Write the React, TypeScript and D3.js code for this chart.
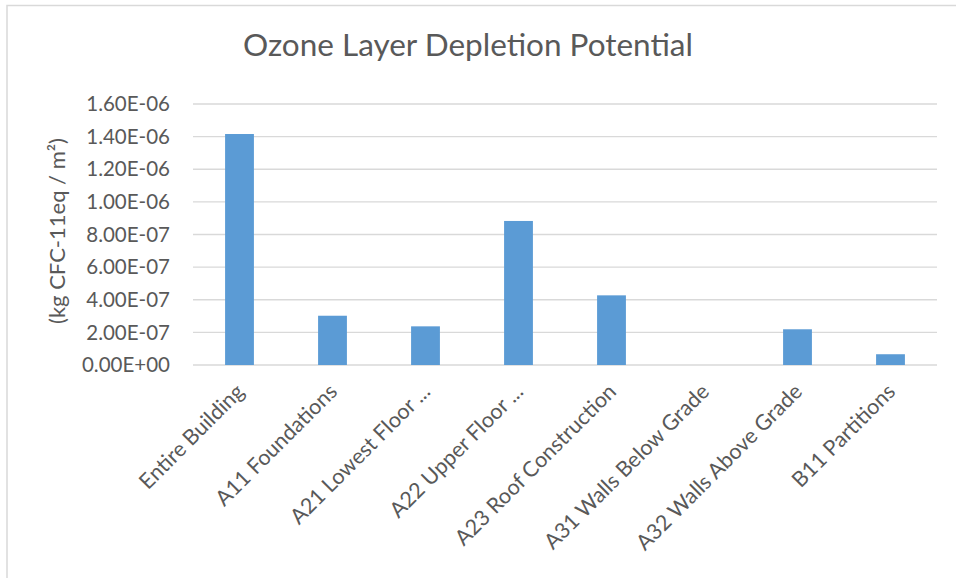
import React from "react";
import * as d3 from "d3";

/* chart data */
const categories = [
  "Entire Building",
  "A11 Foundations",
  "A21 Lowest Floor ...",
  "A22 Upper Floor ...",
  "A23 Roof Construction",
  "A31 Walls Below Grade",
  "A32 Walls Above Grade",
  "B11 Partitions",
];
const values = [1.416e-6, 3.02e-7, 2.37e-7, 8.83e-7, 4.27e-7, 0, 2.19e-7, 6.6e-8];
const yTicks = [0, 2e-7, 4e-7, 6e-7, 8e-7, 1e-6, 1.2e-6, 1.4e-6, 1.6e-6];

const title = "Ozone Layer Depletion Potential";
const yLabel = "(kg CFC-11eq / m²)";

const W = 956;
const H = 578;
const margin = { top: 104, right: 19, bottom: 213, left: 193 };
const font = "Lato, 'Open Sans', sans-serif";
const textColor = "#595959";

const fmt = (v: number) => {
  const s = v.toExponential(2).toUpperCase(); // e.g. 1.60E-6
  return s.replace(/E([+-])(\d)$/, "E$10$2");
};

const App = () => {
  const innerW = W - margin.left - margin.right;
  const innerH = H - margin.top - margin.bottom;

  /* scales */
  const x = d3.scaleBand().domain(categories).range([0, innerW]).paddingInner(0.69).paddingOuter(0.345);
  const y = d3.scaleLinear().domain([0, 1.6e-6]).range([innerH, 0]);

  return (
    <svg width={W} height={H} style={{ position: "absolute", left: 0, top: 0, background: "#fff" }}>
      {/* chart border */}
      <rect x={7} y={5.5} width={W + 20} height={H + 20} fill="#fff" stroke="#d9d9d9" strokeWidth={1.5} />

      <text x={468} y={56} textAnchor="middle" fontFamily={font} fontSize={31.5} fill={textColor}>
        {title}
      </text>

      <g transform={`translate(${margin.left},${margin.top})`}>
        {/* gridlines */}
        {yTicks.map((t) => (
          <line key={t} x1={0} x2={innerW} y1={y(t)} y2={y(t)} stroke="#d9d9d9" strokeWidth={1.3} />
        ))}

        {/* y tick labels */}
        {yTicks.map((t) => (
          <text
            key={"l" + t}
            x={-23}
            y={y(t)}
            dy="0.35em"
            textAnchor="end"
            fontFamily={font}
            fontSize={20.5}
            fill={textColor}
          >
            {fmt(t)}
          </text>
        ))}

        {/* bars */}
        {categories.map((c, i) => (
          <rect
            key={c}
            x={x(c)}
            y={y(values[i])}
            width={x.bandwidth()}
            height={innerH - y(values[i])}
            fill="#5b9bd5"
          />
        ))}

        {/* x labels */}
        {categories.map((c) => {
          const cx = (x(c) as number) + x.bandwidth() / 2 + 6;
          const cy = innerH + 28;
          return (
            <text
              key={"x" + c}
              transform={`translate(${cx},${cy}) rotate(-45)`}
              textAnchor="end"
              fontFamily={font}
              fontSize={21.5}
              fill={textColor}
            >
              {c}
            </text>
          );
        })}
      </g>

      {/* y axis title */}
      <text
        transform={`translate(65,${231}) rotate(-90)`}
        textAnchor="middle"
        fontFamily={font}
        fontSize={22}
        fill={textColor}
      >
        {yLabel}
      </text>
    </svg>
  );
};

export default App;
